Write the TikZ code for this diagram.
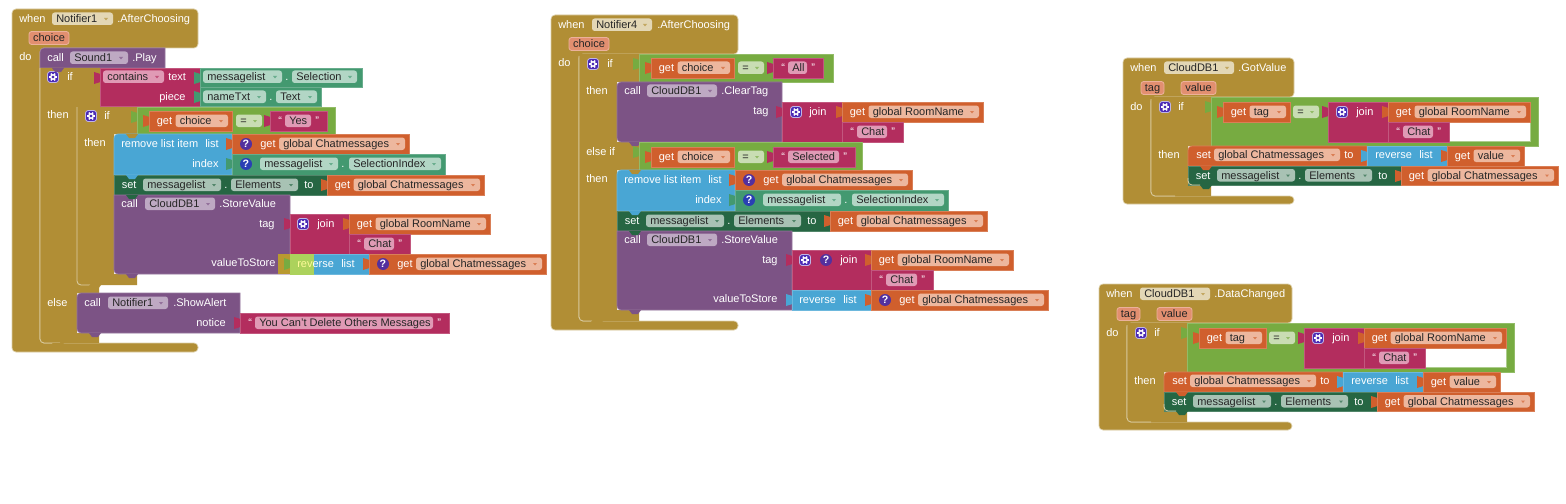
\documentclass[tikz,border=0pt]{standalone}
\usepackage{fontspec}
\setmainfont{Liberation Sans}
\definecolor{ctlcol}{HTML}{B18E35}
\definecolor{ctlpale}{HTML}{E3D7B5}
\definecolor{ctledge}{HTML}{DCCFA8}
\definecolor{proccol}{HTML}{7C5385}
\definecolor{procpale}{HTML}{BEA9C3}
\definecolor{txtcol}{HTML}{B32D5E}
\definecolor{txtpale}{HTML}{E09AB5}
\definecolor{logcol}{HTML}{77AB41}
\definecolor{logpale}{HTML}{C9DDB3}
\definecolor{varcol}{HTML}{D05F2D}
\definecolor{varpale}{HTML}{EDB79E}
\definecolor{listcol}{HTML}{49A6D4}
\definecolor{compcol}{HTML}{439970}
\definecolor{comppale}{HTML}{B2D6C5}
\definecolor{setcol}{HTML}{266643}
\definecolor{setpale}{HTML}{A8C2B4}
\definecolor{argcol}{HTML}{E28F70}
\definecolor{gearcol}{HTML}{4B2BB5}
\definecolor{qcol}{HTML}{53309E}
\definecolor{qblue}{HTML}{2A3FB4}
\definecolor{patchcol}{HTML}{ACD25C}
\tikzset{
    lbl/.style={inner sep=0pt, anchor=mid west, text=white, font=\fontsize{8.25}{9}\selectfont},
    pilltxt/.style={lbl, text=black!85},
    blkline/.style={line width=.5pt},
    ifline/.style={draw=ctledge, line width=.6pt, rounded corners=3pt}
}
% plain, tabbed and left-rounded block bodies
\newcommand{\blk}[5]{\draw[blkline, fill=#1, draw=#1!80!white] ({#2},{#3}) rectangle ({#4},{#5});}
\newcommand{\vblk}[5]{\fill[#1] ({#2+.5},{#3+6}) -- ({#2-6},{#3+4}) -- ({#2-6},{#3+16}) -- ({#2+.5},{#3+14}) -- cycle;
    \blk{#1}{#2}{#3}{#4}{#5}}
\newcommand{\cblk}[7]{\draw[blkline, fill=#1, draw=#1!80!white] [rounded corners=#6pt] ({#2},{#3+6}) -- ({#2},{#3}) [sharp corners] -- ({#4},{#3}) -- ({#4},{#5}) [rounded corners=#7pt] -- ({#2},{#5}) -- cycle;}
\newcommand{\bump}[3]{\fill[#1] ({#2+12},{#3}) -- ({#2+15},{#3+4}) -- ({#2+21},{#3+4}) -- ({#2+24},{#3}) -- cycle;}
\newcommand{\lab}[3]{\node[lbl] at ({#1},{#2}) {#3};}
% dropdown fields
\newcommand{\pill}[6]{\fill[#1, rounded corners=2pt] ({#3},{#5-6.5}) rectangle ({#4},{#5+6});
    \node[pilltxt] at ({#3+4},{#5}) {#6};
    \fill[#2!65!#1] ({#4-9},{#5-1}) -- ({#4-5},{#5-1}) -- ({#4-7},{#5+1.5}) -- cycle;}
\newcommand{\varpill}[4]{\pill{varpale}{varcol}{#1}{#2}{#3}{#4}}
\newcommand{\procpill}[4]{\pill{procpale}{proccol}{#1}{#2}{#3}{#4}}
\newcommand{\comppill}[4]{\pill{comppale}{compcol}{#1}{#2}{#3}{#4}}
\newcommand{\setpill}[4]{\pill{setpale}{setcol}{#1}{#2}{#3}{#4}}
\newcommand{\ctlpill}[4]{\pill{ctlpale}{ctlcol}{#1}{#2}{#3}{#4}}
\newcommand{\eqpill}[2]{\pill{logpale}{logcol}{#1}{#1+26}{#2}{=}}
\newcommand{\argpill}[4]{\draw[fill=argcol, draw=argcol!70!white, line width=.6pt, rounded corners=2pt] ({#1},{#3-6.5}) rectangle ({#2},{#3+6.5});
    \node[pilltxt, anchor=mid] at ({(#1+#2)/2},{#3}) {#4};}
% mutator and help icons
\newcommand{\gearicon}[2]{\draw[fill=gearcol, draw=gearcol!35!white, line width=.6pt, rounded corners=2pt] ({#1-5.5},{#2-5.5}) rectangle ({#1+5.5},{#2+5.5});
    \foreach \a in {0,60,...,300} {\draw[white, line width=1.1pt] ({#1+2*cos(\a)},{#2+2*sin(\a)}) -- ({#1+4*cos(\a)},{#2+4*sin(\a)});}
    \draw[white, line width=1pt] ({#1},{#2}) circle (2.2);}
\newcommand{\qicon}[3]{\fill[#3] ({#1},{#2}) circle (6);
    \node[lbl, anchor=mid, font=\fontsize{8}{9}\selectfont\bfseries] at ({#1},{#2}) {?};}
% value blocks
\newcommand{\getv}[5]{\vblk{varcol}{#1}{#3}{#2}{#4}
    \lab{#1+7.5}{(#3+#4)/2}{get}
    \varpill{#1+26.5}{#2-4}{(#3+#4)/2}{#5}}
\newcommand{\getq}[5]{\vblk{varcol}{#1}{#3}{#2}{#4}
    \qicon{#1+14}{(#3+#4)/2}{qcol}
    \lab{#1+28}{(#3+#4)/2}{get}
    \varpill{#1+47}{#2-4}{(#3+#4)/2}{#5}}
\newcommand{\strv}[5]{\vblk{txtcol}{#1}{#3}{#2}{#4}
    \lab{#1+8}{(#3+#4)/2}{“}
    \fill[txtpale, rounded corners=2pt] ({#1+15},{(#3+#4)/2-6.5}) rectangle ({#2-16},{(#3+#4)/2+6});
    \node[pilltxt] at ({#1+19},{(#3+#4)/2}) {#5};
    \lab{#2-12}{(#3+#4)/2}{”}}
\newcommand{\setelems}[3]{\blk{setcol}{#1}{#2}{#1+213}{#3}
    \lab{#1+7.5}{(#2+#3)/2}{set}
    \setpill{#1+29}{#1+107}{(#2+#3)/2}{messagelist}
    \lab{#1+110}{(#2+#3)/2}{.}
    \setpill{#1+117}{#1+184}{(#2+#3)/2}{Elements}
    \lab{#1+190}{(#2+#3)/2}{to}
    \getv{#1+213}{#1+370}{#2}{#3}{global Chatmessages}}
\newcommand{\removerow}[2]{\cblk{listcol}{#1}{#2}{#1+118}{#2+41}{3}{0}
    \lab{#1+7}{#2+10}{remove list item}
    \lab{#1+91}{#2+10}{list}
    \lab{#1+78}{#2+30}{index}
    \getq{#1+118}{#1+295}{#2}{#2+20}{global Chatmessages}
    \vblk{compcol}{#1+118}{#2+20}{#1+331}{#2+41}
    \qicon{#1+132}{#2+30}{qblue}
    \comppill{#1+146}{#1+224}{#2+30}{messagelist}
    \lab{#1+227}{#2+30}{.}
    \comppill{#1+235}{#1+327}{#2+30}{SelectionIndex}
    \setelems{#1}{#2+41}{#2+61}
    \bump{ctlcol}{#1}{#2}
    \bump{listcol}{#1}{#2+41}}
% event blocks on the right
\newcommand{\cloudevent}[2]{
    \draw[blkline, fill=ctlcol, draw=ctledge, rounded corners=3pt] (1123,58) -- (#1,58) -- (#1,97) -- (1151,97) -- (1151,196) -- (#1,196) -- (#1,204) -- (1123,204) -- cycle;
    \lab{1130}{68}{when}
    \ctlpill{1164}{1234}{68}{CloudDB1}
    \lab{1238}{68}{#2}
    \argpill{1141}{1164}{88}{tag}
    \argpill{1181}{1216}{88}{value}
    \lab{1130}{107}{do}
    \fill[ctlcol] (1151,97) -- (1211,97) -- (1211,146) -- (1188,146) -- (1188,185) -- (1211,185) -- (1211,196) -- (1151,196) -- cycle;
    \draw[ifline] (1151,99) -- (1151,196) -- (1175,196);
    \gearicon{1165}{107}
    \lab{1178}{107}{if}
    \lab{1158}{155}{then}
    \vblk{logcol}{1211}{97}{1538}{146}
    \draw[blkline, fill=white, draw=logcol!60!white] (1449,122) rectangle (1530,141);
    \getv{1223}{1290}{102}{122}{tag}
    \eqpill{1293}{112}
    \vblk{txtcol}{1328}{102}{1388}{142}
    \gearicon{1342}{112}
    \lab{1356}{112}{join}
    \getv{1388}{1530}{102}{122}{global RoomName}
    \strv{1388}{1449}{122}{142}{Chat}
    \cblk{varcol}{1188}{146}{1367}{166}{3}{0}
    \lab{1196}{155}{set}
    \varpill{1214}{1340}{155}{global Chatmessages}
    \lab{1344}{155}{to}
    \vblk{listcol}{1367}{146}{1447}{166}
    \lab{1375}{155}{reverse}
    \lab{1419}{155}{list}
    \getv{1447}{1524}{146}{166}{value}
    \setelems{1188}{166}{185}
    \draw[ifline] (1188,178) -- (1188,185) -- (1200,185);
    \bump{varcol}{1188}{166}
    \bump{setcol}{1188}{185}
}

\begin{document}
\begin{tikzpicture}[x=0.75pt,y=-0.75pt]
    \useasboundingbox (0,0) rectangle (1566,503);
    \fill[white] (0,0) rectangle (1566,503);

    % Notifier1 event
    \draw[blkline, fill=ctlcol, draw=ctledge, rounded corners=3pt] (12,9) -- (198,9) -- (198,48) -- (40,48) -- (40,343) -- (198,343) -- (198,352) -- (12,352) -- cycle;
    \lab{19}{19}{when}
    \ctlpill{52}{113}{19}{Notifier1}
    \lab{117}{19}{.AfterChoosing}
    \argpill{29}{69}{38}{choice}
    \lab{19}{57}{do}
    \cblk{proccol}{40}{48}{165}{68}{3}{0}
    \lab{47}{58}{call}
    \procpill{70}{128}{58}{Sound1}
    \lab{132}{58}{.Play}

    % Outer if
    \fill[ctlcol] (40,68) -- (100,68) -- (100,107) -- (77,107) -- (77,285) -- (99,285) -- (99,293) -- (77,293) -- (77,333) -- (99,333) -- (99,343) -- (40,343) -- cycle;
    \draw[ifline] (40,68) -- (40,343) -- (60,343);
    \gearicon{53}{77}
    \lab{67}{77}{if}
    \lab{47}{115}{then}
    \lab{47}{303}{else}
    \bump{proccol}{40}{68}
    \vblk{txtcol}{100}{68}{200}{106}
    \pill{txtpale}{txtcol}{103}{164}{77}{contains}
    \lab{168}{77}{text}
    \lab{159}{97}{piece}
    \vblk{compcol}{200}{68}{362}{87}
    \comppill{203}{282}{77}{messagelist}
    \lab{285}{77}{.}
    \comppill{292}{357}{77}{Selection}
    \vblk{compcol}{200}{87}{321}{106}
    \comppill{203}{266}{97}{nameTxt}
    \lab{269}{97}{.}
    \comppill{276}{317}{97}{Text}

    % Inner if
    \fill[ctlcol] (77,107) -- (137,107) -- (137,134) -- (114,134) -- (114,274) -- (137,274) -- (137,285) -- (77,285) -- cycle;
    \draw[ifline] (77,107) -- (77,285) -- (90,285);
    \gearicon{91}{116}
    \lab{104}{116}{if}
    \lab{84}{143}{then}
    \vblk{logcol}{137}{107}{335}{134}
    \getv{149}{232}{111}{131}{choice}
    \eqpill{236}{121}
    \strv{270}{327}{111}{131}{Yes}
    \removerow{114}{134}

    % StoreValue call
    \cblk{proccol}{114}{195}{290}{274}{0}{3}
    \lab{121}{204}{call}
    \procpill{145}{215}{204}{CloudDB1}
    \lab{219}{204}{.StoreValue}
    \lab{259}{224}{tag}
    \lab{211}{263}{valueToStore}
    \vblk{txtcol}{290}{214}{349}{254}
    \gearicon{303}{224}
    \lab{317}{224}{join}
    \getv{349}{490}{214}{234}{global RoomName}
    \strv{349}{410}{234}{254}{Chat}
    \vblk{listcol}{290}{254}{369}{274}
    \fill[ctlcol!90!yellow] (278,254) rectangle (290,274);
    \fill[logcol] (290,260) -- (284,258) -- (284,270) -- (290,268) -- cycle;
    \fill[patchcol] (290,254) rectangle (314,275);
    \node[lbl] at (297,264) {{\color{yellow!40!white}rev}erse};
    \lab{341}{264}{list}
    \getq{369}{546}{254}{274}{global Chatmessages}
    \bump{setcol}{114}{195}
    \bump{proccol}{114}{274}
    \bump{ctlcol}{77}{285}

    % ShowAlert call
    \cblk{proccol}{77}{293}{240}{333}{3}{3}
    \lab{84}{303}{call}
    \procpill{108}{168}{303}{Notifier1}
    \lab{173}{303}{.ShowAlert}
    \lab{196}{323}{notice}
    \strv{240}{449}{313}{333}{You Can't Delete Others Messages}
    \bump{proccol}{77}{333}
    \bump{ctlcol}{40}{343}

    % Notifier4 event
    \draw[blkline, fill=ctlcol, draw=ctledge, rounded corners=3pt] (551,15) -- (738,15) -- (738,54) -- (579,54) -- (579,321) -- (738,321) -- (738,330) -- (551,330) -- cycle;
    \lab{558}{25}{when}
    \ctlpill{592}{652}{25}{Notifier4}
    \lab{657}{25}{.AfterChoosing}
    \argpill{569}{609}{44}{choice}
    \lab{558}{63}{do}
    \fill[ctlcol] (579,54) -- (639,54) -- (639,82) -- (617,82) -- (617,142) -- (639,142) -- (639,170) -- (617,170) -- (617,310) -- (639,310) -- (639,321) -- (579,321) -- cycle;
    \draw[ifline] (579,56) -- (579,321) -- (592,321);
    \gearicon{593}{64}
    \lab{607}{64}{if}
    \lab{586}{91}{then}
    \lab{586}{152}{else if}
    \lab{586}{179}{then}

    % First condition and ClearTag
    \vblk{logcol}{639}{54}{833}{82}
    \getv{651}{734}{58}{78}{choice}
    \eqpill{738}{68}
    \strv{773}{823}{58}{78}{All}
    \cblk{proccol}{617}{82}{782}{142}{3}{3}
    \lab{624}{91}{call}
    \procpill{647}{717}{91}{CloudDB1}
    \lab{721}{91}{.ClearTag}
    \lab{753}{111}{tag}
    \vblk{txtcol}{782}{102}{842}{142}
    \gearicon{796}{112}
    \lab{809}{112}{join}
    \getv{842}{983}{102}{122}{global RoomName}
    \strv{842}{903}{122}{142}{Chat}
    \bump{proccol}{617}{142}

    % Second condition and StoreValue
    \vblk{logcol}{639}{142}{862}{170}
    \getv{651}{734}{147}{167}{choice}
    \eqpill{738}{157}
    \strv{773}{855}{147}{167}{Selected}
    \removerow{617}{170}
    \cblk{proccol}{617}{231}{792}{310}{0}{3}
    \lab{624}{240}{call}
    \procpill{647}{717}{240}{CloudDB1}
    \lab{721}{240}{.StoreValue}
    \lab{762}{260}{tag}
    \lab{713}{299}{valueToStore}
    \vblk{txtcol}{792}{250}{871}{290}
    \gearicon{805}{260}
    \qicon{826}{260}{qcol}
    \lab{840}{260}{join}
    \getv{871}{1013}{250}{270}{global RoomName}
    \strv{871}{933}{270}{290}{Chat}
    \vblk{listcol}{792}{290}{871}{310}
    \lab{799}{300}{reverse}
    \lab{843}{300}{list}
    \getq{871}{1048}{290}{310}{global Chatmessages}
    \bump{setcol}{617}{231}
    \bump{proccol}{617}{310}
    \bump{ctlcol}{579}{321}

    % CloudDB1 events
    \cloudevent{1294}{.GotValue}
    \begin{scope}[shift={(-24,226)}]
        \cloudevent{1316}{.DataChanged}
    \end{scope}
\end{tikzpicture}
\end{document}
